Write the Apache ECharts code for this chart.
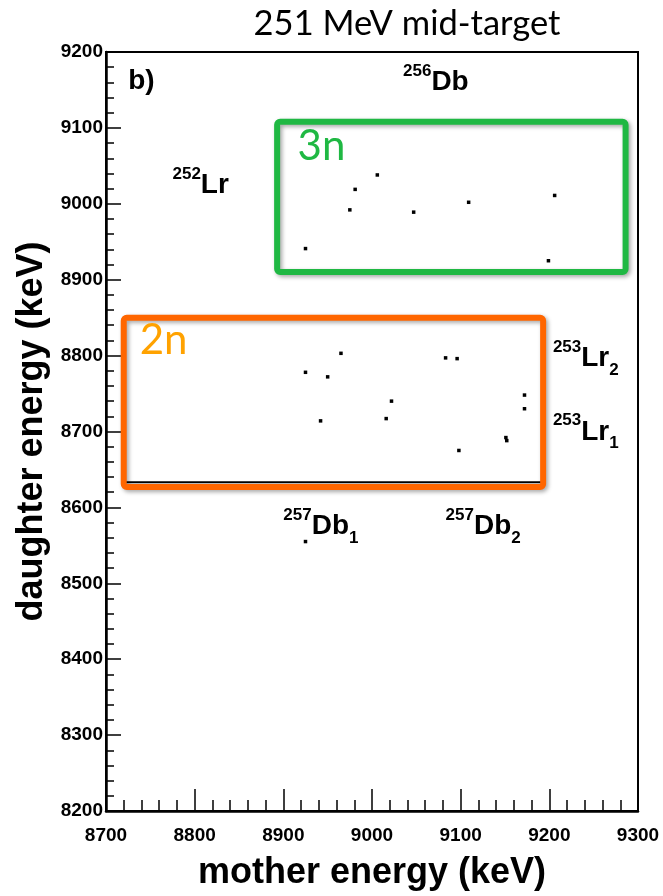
<!DOCTYPE html>
<html><head><meta charset="utf-8">
<script src="https://cdn.jsdelivr.net/npm/echarts@6/dist/echarts.min.js"></script>
<style>html,body{margin:0;padding:0;background:#fff}#c{width:663px;height:896px}</style>
</head><body><div id="c"></div>
<script>
// ---- data ----
const xTicks = [8700, 8800, 8900, 9000, 9100, 9200, 9300];
const yTicks = [8200, 8300, 8400, 8500, 8600, 8700, 8800, 8900, 9000, 9100, 9200];
const points3n = [[8925,8941],[8975,8992],[8981,9019],[9006,9038],[9047,8989],[9109,9002],[9206,9011],[9199,8925]];
const points2n = [[8925,8778],[8942,8714],[8950,8772],[8965,8803],[9016,8717],[9022,8740],[9083,8797],[9096,8796],[9098,8675],[9151,8692],[9152,8688],[9172,8748],[9172,8730]];
const pointsOther = [[8925,8555]];
const box3n = [8893, 8910, 9286, 9108];
const box2n = [8720, 8627, 9193, 8850];
const baseLine = [[8722,8633],[9191,8633]];
const isotopeLabels = [
  {value:[8725,9162], text:'{m|b)}'},
  {value:[9035,9160], text:'{s|256}{m|Db}'},
  {value:[8775,9024], text:'{s|252}{m|Lr}'},
  {value:[9204,8796], text:'{s|253}{m|Lr}{b|2}'},
  {value:[9204,8699], text:'{s|253}{m|Lr}{b|1}'},
  {value:[8900,8575], text:'{s|257}{m|Db}{b|1}'},
  {value:[9083,8575], text:'{s|257}{m|Db}{b|2}'}
];
const boxLabels = [
  {value:[8916,9075], text:'3n', color:'#1fb843'},
  {value:[8738,8820], text:'2n', color:'#ffa200'}
];

const chart = echarts.init(document.getElementById('c'));
function boxSeries(box, color){
  return {
    type:'custom', data:[box], encode:{x:[0,2], y:[1,3]}, silent:true, z:5,
    renderItem:function(params, api){
      const p0 = api.coord([api.value(0), api.value(3)]);
      const p1 = api.coord([api.value(2), api.value(1)]);
      return {type:'rect', shape:{x:p0[0], y:p0[1], width:p1[0]-p0[0], height:p1[1]-p0[1], r:3},
        style:{fill:null, stroke:color, lineWidth:6, shadowBlur:4, shadowColor:'rgba(0,0,0,0.35)', shadowOffsetX:2, shadowOffsetY:2}};
    }
  };
}
const F = 'Liberation Sans';
const rich = {
  m:{fontSize:28, fontWeight:'bold', fontFamily:F, color:'#000', lineHeight:40},
  s:{fontSize:17, fontWeight:'bold', fontFamily:F, color:'#000', lineHeight:17, verticalAlign:'top'},
  b:{fontSize:17, fontWeight:'bold', fontFamily:F, color:'#000', lineHeight:17, verticalAlign:'bottom'}
};
const tickFmt = v => String(v);
const solid = {color:'#000', opacity:1};
const option = {
  animation:false,
  textStyle:{color:'#000'},
  title:{text:'251 MeV mid-target', left:402, top:1, textAlign:'center',
    textStyle:{fontFamily:'Lato', fontWeight:'normal', fontSize:34.5, color:'#000'}},
  grid:{left:106, right:25, top:52, bottom:84, show:true, borderColor:'#000', borderWidth:2, backgroundColor:'transparent'},
  xAxis:{type:'value', min:xTicks[0], max:xTicks[xTicks.length-1], interval:100,
    name:'mother energy (keV)', nameLocation:'middle', nameGap:44,
    nameTextStyle:{fontFamily:F, fontWeight:'bold', fontSize:36, color:'#000'},
    axisLine:{lineStyle:{color:'#000', width:2.5}},
    axisTick:{inside:true, length:22, lineStyle:{color:'#000', width:1.5}},
    minorTick:{show:true, splitNumber:5, length:11, lineStyle:{color:'#000', width:1.5}},
    splitLine:{show:false},
    axisLabel:{margin:15, formatter:tickFmt, fontFamily:F, fontWeight:'bold', fontSize:19, color:'#000'}},
  yAxis:{type:'value', min:yTicks[0], max:yTicks[yTicks.length-1], interval:100,
    name:'daughter energy (keV)', nameLocation:'middle', nameGap:55,
    nameTextStyle:{fontFamily:F, fontWeight:'bold', fontSize:36, color:'#000'},
    axisLine:{lineStyle:{color:'#000', width:2.5}},
    axisTick:{inside:true, length:15, lineStyle:{color:'#000', width:1.5}},
    minorTick:{show:true, splitNumber:5, length:8, lineStyle:{color:'#000', width:1.5}},
    splitLine:{show:false},
    axisLabel:{margin:3, formatter:tickFmt, fontFamily:F, fontWeight:'bold', fontSize:19, color:'#000'}},
  series:[
    {type:'line', data:baseLine, symbol:'none', lineStyle:{color:'#000', width:2}, z:4, silent:true},
    boxSeries(box3n, '#1fb843'),
    boxSeries(box2n, '#ff6600'),
    {type:'scatter', data:points3n, symbol:'rect', symbolSize:3.5, itemStyle:solid, z:6},
    {type:'scatter', data:points2n, symbol:'rect', symbolSize:3.5, itemStyle:solid, z:6},
    {type:'scatter', data:pointsOther, symbol:'rect', symbolSize:3.5, itemStyle:solid, z:6},
    {type:'scatter', symbolSize:0, z:7, silent:true, itemStyle:solid,
      data:isotopeLabels.map(d=>({value:d.value, label:{formatter:d.text}})),
      label:{show:true, position:'right', distance:0, color:'#000', textBorderWidth:0, rich:rich}},
    {type:'scatter', symbolSize:0, z:7, silent:true, itemStyle:{opacity:1},
      data:boxLabels.map(d=>({value:d.value, label:{formatter:d.text, color:d.color}})),
      label:{show:true, position:'right', distance:0, fontFamily:'Lato', fontSize:42, fontWeight:'normal', textBorderWidth:0}}
  ]
};
chart.setOption(option);
</script></body></html>
